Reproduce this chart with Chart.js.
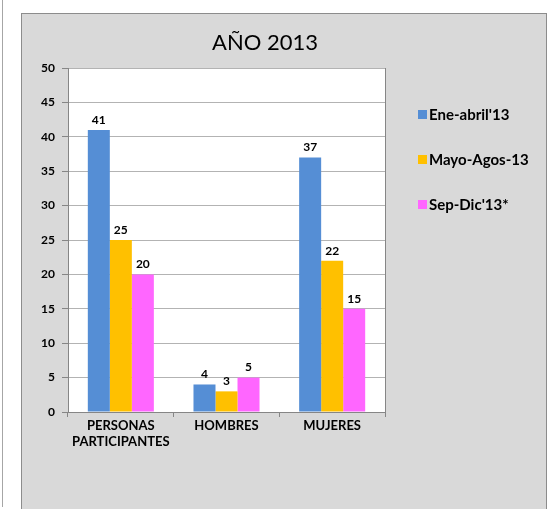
<!DOCTYPE html>
<html>
<head>
<meta charset="utf-8">
<script src="https://cdn.jsdelivr.net/npm/chart.js@4.4.1/dist/chart.umd.min.js"></script>
<style>
  html, body { margin: 0; padding: 0; background: #fff; }
  body { width: 548px; height: 509px; position: relative; overflow: hidden; }
  #edge { position: absolute; left: 2px; top: 0; width: 1px; height: 507px; background: #a6a6a6; }
  #box { position: absolute; left: 21px; top: 13px; width: 524px; height: 500px;
         background: #d9d9d9; border: 1px solid #8c8c8c; }
  #box canvas { position: absolute; left: 0; top: 0; }
</style>
</head>
<body>
<div id="edge"></div>
<div id="box"><canvas id="revenueChart" width="524" height="496"></canvas></div>
<script>
const categories = [['PERSONAS', 'PARTICIPANTES'], 'HOMBRES', 'MUJERES']
const seriesNames = ["Ene-abril'13", 'Mayo-Agos-13', "Sep-Dic'13*"]
const eneAbril = [41, 4, 37]
const mayoAgos = [25, 3, 22]
const sepDic = [20, 5, 15]
const yTicks = [0, 5, 10, 15, 20, 25, 30, 35, 40, 45, 50]
const colors = ['#558ed5', '#ffc000', '#ff66ff']
const titleText = 'AÑO 2013'

const FONT = 'Lato, "Open Sans", sans-serif'

// white plot area, labels on bars, title and legend
const extras = {
  id: 'extras',
  beforeDraw(chart) {
    const a = chart.chartArea
    const ctx = chart.ctx
    ctx.save()
    ctx.fillStyle = '#ffffff'
    ctx.fillRect(a.left, a.top, a.right - a.left, a.bottom - a.top)
    ctx.restore()
  },
  afterDatasetsDraw(chart) {
    const ctx = chart.ctx
    ctx.save()
    ctx.font = 'bold 12px ' + FONT
    ctx.fillStyle = '#000'
    ctx.textAlign = 'center'
    ctx.textBaseline = 'bottom'
    chart.data.datasets.forEach((ds, i) => {
      chart.getDatasetMeta(i).data.forEach((bar, j) => {
        ctx.fillText(ds.data[j], bar.x, bar.y - 4)
      })
    })
    ctx.restore()
  },
  afterDraw(chart) {
    const a = chart.chartArea
    const ctx = chart.ctx
    ctx.save()
    // right border of plot
    ctx.strokeStyle = '#868686'
    ctx.lineWidth = 1
    ctx.beginPath()
    ctx.moveTo(Math.round(a.right) + 0.5, a.top)
    ctx.lineTo(Math.round(a.right) + 0.5, a.bottom)
    ctx.stroke()
    // title
    ctx.fillStyle = '#000'
    ctx.font = '22px ' + FONT
    ctx.textAlign = 'center'
    ctx.textBaseline = 'middle'
    ctx.fillText(titleText, 243, 29)
    // legend
    ctx.font = 'bold 15px ' + FONT
    ctx.textAlign = 'left'
    chart.data.datasets.forEach((ds, i) => {
      const y = 100 + i * 45
      ctx.fillStyle = ds.backgroundColor
      ctx.fillRect(396, y - 4, 9, 9)
      ctx.fillStyle = '#000'
      ctx.fillText(ds.label, 407, y + 1)
    })
    ctx.restore()
  }
}

const ctx = document.getElementById('revenueChart')
new Chart(ctx, {
  type: 'bar',
  data: {
    labels: categories,
    datasets: [
      { label: seriesNames[0], data: eneAbril, backgroundColor: colors[0] },
      { label: seriesNames[1], data: mayoAgos, backgroundColor: colors[1] },
      { label: seriesNames[2], data: sepDic, backgroundColor: colors[2] }
    ]
  },
  options: {
    responsive: false,
    animation: false,
    categoryPercentage: 0.625,
    barPercentage: 1,
    layout: { padding: { top: 54, left: 6, right: 161, bottom: 48 } },
    plugins: {
      legend: { display: false },
      title: { display: false },
      tooltip: { enabled: false }
    },
    scales: {
      x: {
        afterFit(scale) { scale.height = 50 },
        grid: { drawOnChartArea: false, color: '#868686', tickLength: 5 },
        border: { color: '#868686' },
        ticks: { color: '#000', font: { family: FONT, size: 13, weight: 'bold', lineHeight: 1.2 }, padding: 1, maxRotation: 0 }
      },
      y: {
        min: 0,
        max: 50,
        afterFit(scale) { scale.width = 40 },
        afterBuildTicks(scale) { scale.ticks = yTicks.map(v => ({ value: v })) },
        grid: { color: '#b3b3b3', tickLength: 6, tickColor: '#868686' },
        border: { color: '#868686' },
        ticks: { color: '#000', font: { family: FONT, size: 12, weight: 'bold' }, padding: 7 }
      }
    }
  },
  plugins: [extras]
})
</script>
</body>
</html>
